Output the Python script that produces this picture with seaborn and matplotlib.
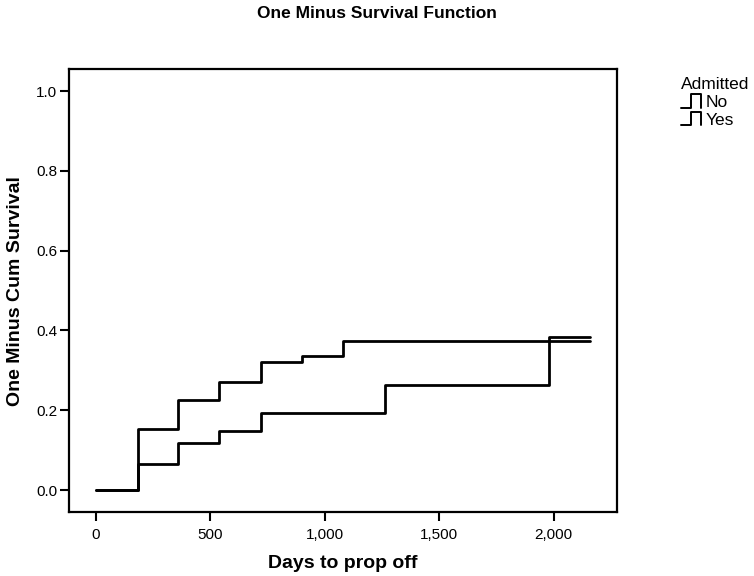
import matplotlib
matplotlib.use("Agg")
import matplotlib.pyplot as plt
import pandas as pd
import seaborn as sns
from matplotlib.legend_handler import HandlerBase
from matplotlib.lines import Line2D
from matplotlib.ticker import FuncFormatter

# Step points (day, one minus cumulative survival)
days_no = [0, 182, 360, 538, 721, 902, 1081, 2159]
surv_no = [0.0, 0.152, 0.226, 0.271, 0.320, 0.336, 0.374, 0.374]
days_yes = [0, 182, 360, 538, 721, 1263, 1980, 2159]
surv_yes = [0.0, 0.066, 0.119, 0.148, 0.194, 0.263, 0.384, 0.384]
groups = ['No', 'Yes']

df = pd.concat([
    pd.DataFrame({'days': days_no, 'value': surv_no, 'Admitted': groups[0]}),
    pd.DataFrame({'days': days_yes, 'value': surv_yes, 'Admitted': groups[1]}),
])


class StepHandler(HandlerBase):
    # little step glyph used by the legend
    def create_artists(self, legend, orig_handle, xdescent, ydescent,
                       width, height, fontsize, trans):
        xs = [0, 0.45, 0.45, 0.9, 0.9]
        ys = [-0.05, -0.05, 1.05, 1.05, -0.05]
        ln = Line2D([-xdescent + x * width for x in xs],
                    [-ydescent + y * height for y in ys],
                    color='black', lw=1.4, transform=trans)
        return [ln]


sns.set_style('white')
plt.rcParams['font.family'] = ['Liberation Sans', 'DejaVu Sans']
for k in ['text.color', 'axes.labelcolor', 'xtick.color', 'ytick.color']:
    plt.rcParams[k] = 'black'

fig = plt.figure(figsize=(7.54, 5.76), dpi=100)
ax = fig.add_axes([0.0915, 0.111, 0.727, 0.769])

sns.lineplot(data=df, x='days', y='value', hue='Admitted',
             palette=['black', 'black'], drawstyle='steps-post',
             estimator=None, linewidth=2, legend=False, ax=ax)

ax.set_xlim(-118, 2277)
ax.set_ylim(-0.055, 1.055)
ax.set_xticks([0, 500, 1000, 1500, 2000])
ax.set_yticks([0.0, 0.2, 0.4, 0.6, 0.8, 1.0])
ax.xaxis.set_major_formatter(FuncFormatter(lambda v, p: f'{v:,.0f}'))
ax.yaxis.set_major_formatter(FuncFormatter(lambda v, p: f'{v:.1f}'))
ax.tick_params(axis='both', direction='out', length=6.5, width=1.5,
               labelsize=11, bottom=True, left=True)
ax.tick_params(axis='x', pad=5)
ax.tick_params(axis='y', pad=2)
for s in ax.spines.values():
    s.set_color('black')
    s.set_linewidth(1.6)

ax.set_xlabel('Days to prop off', fontsize=14, fontweight='bold', labelpad=9)
ax.set_ylabel('One Minus Cum Survival', fontsize=14, fontweight='bold', labelpad=9)
fig.suptitle('One Minus Survival Function', fontsize=12.5, fontweight='bold',
             x=0.5, y=0.99)

handles = [Line2D([], [], color='black'), Line2D([], [], color='black')]
leg = fig.legend(handles, groups, title='Admitted', loc='upper left',
                 bbox_to_anchor=(0.903, 0.866), frameon=False, fontsize=12.5,
                 title_fontsize=12.5, handlelength=1.3, handletextpad=0.15,
                 labelspacing=0.15, borderaxespad=0, borderpad=0,
                 handler_map={Line2D: StepHandler()})
leg._legend_box.align = 'left'

fig.savefig('out.png', dpi=100)
